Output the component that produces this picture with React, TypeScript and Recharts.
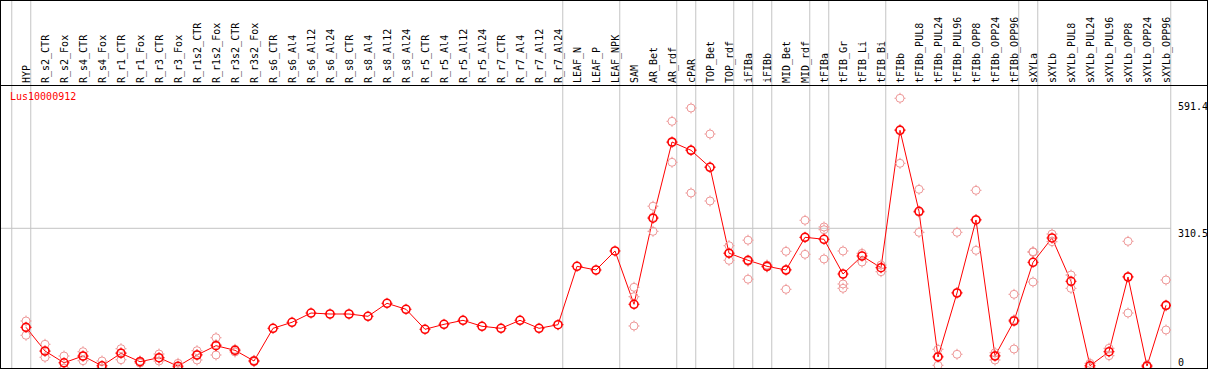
import React from "react";
import {
  ComposedChart,
  Line,
  Scatter,
  XAxis,
  YAxis,
  ReferenceLine,
} from "recharts";

const SERIES_NAME = "Lus10000912";

const CATEGORIES = [
  "HYP", "R_s2_CTR", "R_s2_Fox", "R_s4_CTR", "R_s4_Fox", "R_r1_CTR", "R_r1_Fox",
  "R_r3_CTR", "R_r3_Fox", "R_r1s2_CTR", "R_r1s2_Fox", "R_r3s2_CTR", "R_r3s2_Fox",
  "R_s6_CTR", "R_s6_Al4", "R_s6_Al12", "R_s6_Al24", "R_s8_CTR", "R_s8_Al4",
  "R_s8_Al12", "R_s8_Al24", "R_r5_CTR", "R_r5_Al4", "R_r5_Al12", "R_r5_Al24",
  "R_r7_CTR", "R_r7_Al4", "R_r7_Al12", "R_r7_Al24", "LEAF_N", "LEAF_P", "LEAF_NPK",
  "SAM", "AR_Bet", "AR_rdf", "cPAR", "TOP_Bet", "TOP_rdf", "iFIBa", "iFIBb",
  "MID_Bet", "MID_rdf", "tFIBa", "tFIB_Gr", "tFIB_Li", "tFIB_Bi", "tFIBb",
  "tFIBb_PUL8", "tFIBb_PUL24", "tFIBb_PUL96", "tFIBb_OPP8", "tFIBb_OPP24",
  "tFIBb_OPP96", "sXYLa", "sXYLb", "sXYLb_PUL8", "sXYLb_PUL24", "sXYLb_PUL96",
  "sXYLb_OPP8", "sXYLb_OPP24", "sXYLb_OPP96",
];

const MEANS = [
  90.5, 37.8, 11.6, 26.7, 4.9, 32.7, 14, 22.9, 4, 28.9, 49.6, 39.3, 15.6,
  88.2, 101.6, 122.2, 120, 120, 114.9, 143.8, 130.5, 86, 97.1, 106, 92.7,
  88.2, 106, 88.2, 96.2, 226, 217.8, 260.1, 141.6, 333, 502.3, 483.9, 446.1,
  255.2, 239.4, 226, 217.8, 290.5, 286.1, 208.9, 248.9, 222.9, 528.3, 348.3,
  24.5, 166.7, 329, 26.7, 104.5, 234.9, 289, 192.7, 5.1, 36.2, 202.3, 4.4, 139.4,
];

const REPLICATES: number[][] = [
  [104.5, 90, 72.7], [52.7, 37, 23.8], [26.7, 0], [36.2, 26, 16.2], [15.6, 0],
  [42.9, 34, 18.4], [15.6, 11], [31.1, 22, 15.6], [10.4, 0], [38.5, 30, 17.8],
  [67.3, 52, 28.9], [41.6, 35.6], [17, 14],
  [], [], [], [], [], [], [], [], [], [], [], [], [], [], [], [],
  [], [], [],
  [179.4, 158.5, 93.4], [359.6, 335, 303.8], [548.3, 501, 457.2],
  [577.9, 485, 389], [520.1, 447, 371.2], [271.8, 255, 239.4],
  [284.1, 237, 197.4], [228.9, 224.5], [259.4, 219, 174.9], [328.3, 290, 252.7],
  [313.4, 307.4, 242.3], [260.1, 186.7, 177.1], [254.9, 235.6], [228.9, 214],
  [599.5, 530, 455], [397.2, 346, 301.6], [41.6, 26, 6], [301.6, 168, 30.5],
  [395, 330, 261.6], [34, 28, 17.8], [163.8, 107, 42.2], [258.5, 257.2, 191.2],
  [297.8, 280.7], [206.7, 177.1], [10.4, 1.6], [43.8, 27.3],
  [281.6, 203, 122.2], [6.7, 2.2], [195.6, 138, 84.5],
];

// group separators drawn just after these category indices
const SEPARATORS_AFTER = [-1, 0, 28, 31, 34, 35, 37, 38, 39, 41, 42, 45, 52, 53, 60];

const Y_TICKS = [0, 310.5, 591.4];

const FONT = "'DejaVu Sans Mono', monospace";
const RED = "#ff0000";
const PINK = "#ee9898";
const GRID = "#c4c4c4";

const X_MIN = -26 / 19;
const X_MAX = X_MIN + 1171 / 19;
const Y_MAX = 629;
const Y_FRAME_TOP = 818;

const rows = MEANS.map((mean, i) => ({ x: i, mean }));
const repRows = REPLICATES.flatMap((reps, i) => reps.map((v) => ({ x: i, v })));

function Ring({ cx, cy, color, width }: any) {
  if (cx == null || cy == null) return null;
  return (
    <g>
      <circle cx={cx} cy={cy} r={4} fill="none" stroke={color} strokeWidth={width} />
      <line x1={cx} y1={cy - 5.5} x2={cx} y2={cy - 4} stroke={color} strokeWidth={1} />
      <line x1={cx} y1={cy + 4} x2={cx} y2={cy + 5.5} stroke={color} strokeWidth={1} />
      <line x1={cx - 5.5} y1={cy} x2={cx - 4} y2={cy} stroke={color} strokeWidth={1} />
      <line x1={cx + 4} y1={cy} x2={cx + 5.5} y2={cy} stroke={color} strokeWidth={1} />
    </g>
  );
}

function MeanDot(props: any) {
  return <Ring key={`m-${props.index}`} cx={props.cx} cy={props.cy} color={RED} width={1.6} />;
}

function RepShape(props: any) {
  return <Ring cx={props.cx} cy={props.cy} color={PINK} width={1} />;
}

function CategoryTick({ x, payload }: any) {
  return (
    <text
      transform={`translate(${x + 4}, 83) rotate(-90)`}
      fontFamily={FONT}
      fontSize={10}
      fill="#000"
      textAnchor="start"
    >
      {CATEGORIES[payload.value]}
    </text>
  );
}

function ValueTick({ y, payload }: any) {
  return (
    <text
      x={1178}
      y={y + (payload.value === 0 ? -2.5 : 8.5)}
      fontFamily={FONT}
      fontSize={10}
      fill="#000"
    >
      {String(payload.value)}
    </text>
  );
}

export default function App() {
  return (
    <div
      style={{
        position: "absolute",
        left: 0,
        top: 0,
        width: 1209,
        height: 370,
        background: "#fff",
      }}
    >
      <ComposedChart
        width={1209}
        height={370}
        data={rows}
        margin={{ top: 0, right: 0, bottom: 2, left: 0 }}
      >
        <XAxis
          type="number"
          dataKey="x"
          orientation="top"
          domain={[X_MIN, X_MAX]}
          allowDataOverflow
          ticks={CATEGORIES.map((_, i) => i)}
          interval={0}
          height={85}
          axisLine={false}
          tickLine={false}
          tick={<CategoryTick />}
        />
        <YAxis
          orientation="right"
          width={38}
          domain={[0, Y_MAX]}
          allowDataOverflow
          ticks={Y_TICKS}
          interval={0}
          axisLine={false}
          tickLine={false}
          tick={<ValueTick />}
        />
        <ReferenceLine y={Y_TICKS[1]} stroke={GRID} />
        {SEPARATORS_AFTER.map((i) => (
          <ReferenceLine
            key={`sep-${i}`}
            segment={[
              { x: i + 0.25, y: 0 },
              { x: i + 0.25, y: Y_FRAME_TOP },
            ]}
            stroke={GRID}
            ifOverflow="visible"
          />
        ))}
        <Scatter
          data={repRows}
          dataKey="v"
          shape={<RepShape />}
          isAnimationActive={false}
        />
        <Line
          dataKey="mean"
          stroke={RED}
          strokeWidth={1}
          dot={<MeanDot />}
          activeDot={false}
          isAnimationActive={false}
        />
      </ComposedChart>
      <div
        style={{
          position: "absolute",
          left: 0,
          top: 0,
          width: 1208,
          height: 369,
          boxSizing: "border-box",
          border: "1px solid #000",
          pointerEvents: "none",
        }}
      />
      <div
        style={{
          position: "absolute",
          left: 0,
          top: 85,
          width: 1208,
          height: 1,
          background: "#000",
        }}
      />
      <div
        style={{
          position: "absolute",
          left: 10,
          top: 91,
          fontFamily: FONT,
          fontSize: 10,
          lineHeight: "12px",
          color: RED,
        }}
      >
        {SERIES_NAME}
      </div>
    </div>
  );
}
